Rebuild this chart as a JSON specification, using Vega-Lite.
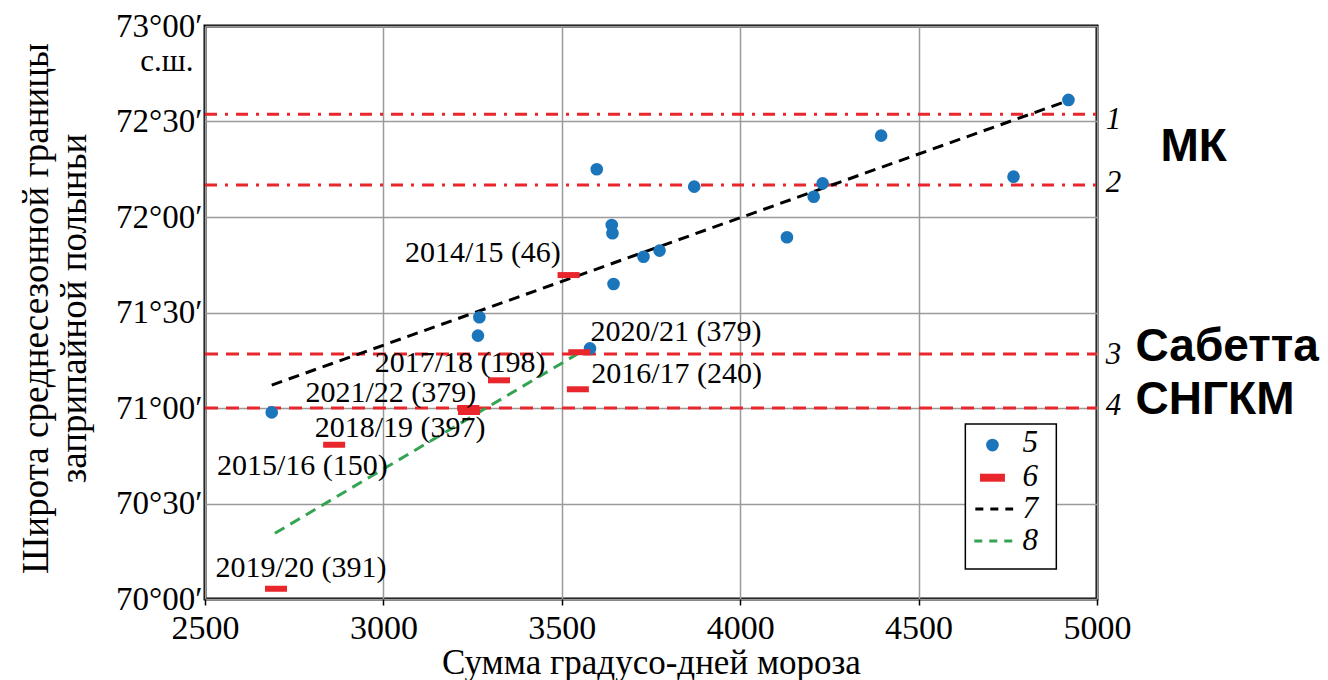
{
  "$schema": "https://vega.github.io/schema/vega-lite/v6.json",
  "width": 892,
  "height": 573,
  "autosize": {"type": "none"},
  "padding": {"left": 205, "top": 26, "right": 231, "bottom": 81},
  "background": "white",
  "config": {
    "font": "Liberation Serif",
    "view": {"stroke": "black", "strokeWidth": 3},
    "axis": {"labelColor": "black", "titleColor": "black", "titleFontWeight": "normal", "labelFont": "Liberation Serif", "titleFont": "Liberation Serif"}
  },
  "datasets": {
    "refs": [
      {"id": "1", "kind": "dashdot", "x": 2500, "x2": 5000, "y": 72.538},
      {"id": "2", "kind": "dashdot", "x": 2500, "x2": 5000, "y": 72.167},
      {"id": "3", "kind": "dashed", "x": 2500, "x2": 5000, "y": 71.283},
      {"id": "4", "kind": "dashed", "x": 2500, "x2": 5000, "y": 71.0}
    ],
    "trends": [
      {"s": "7", "x": 2687, "y": 71.12},
      {"s": "7", "x": 4920, "y": 72.61},
      {"s": "8", "x": 2696, "y": 70.344},
      {"s": "8", "x": 3550, "y": 71.29}
    ],
    "pts": [
      {"x": 2687, "y": 70.977},
      {"x": 3265, "y": 71.379},
      {"x": 3269, "y": 71.475},
      {"x": 3579, "y": 71.312},
      {"x": 3598, "y": 72.25},
      {"x": 3640, "y": 71.958},
      {"x": 3642, "y": 71.915},
      {"x": 3645, "y": 71.649},
      {"x": 3729, "y": 71.792},
      {"x": 3774, "y": 71.824},
      {"x": 3871, "y": 72.159},
      {"x": 4131, "y": 71.894},
      {"x": 4206, "y": 72.106},
      {"x": 4231, "y": 72.176},
      {"x": 4395, "y": 72.426},
      {"x": 4766, "y": 72.211},
      {"x": 4920, "y": 72.613}
    ],
    "bars": [
      {"season": "2014/15", "x": 3519, "y": 71.696},
      {"season": "2020/21", "x": 3549, "y": 71.292},
      {"season": "2016/17", "x": 3545, "y": 71.098},
      {"season": "2017/18", "x": 3324, "y": 71.145},
      {"season": "2021/22", "x": 3238, "y": 71.0},
      {"season": "2018/19", "x": 3240, "y": 70.979},
      {"season": "2015/16", "x": 2862, "y": 70.808},
      {"season": "2019/20", "x": 2699, "y": 70.054}
    ],
    "labels": [
      {"t": "2014/15 (46)", "x": 3279, "y": 71.81},
      {"t": "2020/21 (379)", "x": 3820, "y": 71.4},
      {"t": "2016/17 (240)", "x": 3822, "y": 71.178},
      {"t": "2017/18 (198)", "x": 3215, "y": 71.234},
      {"t": "2021/22 (379)", "x": 3021, "y": 71.077},
      {"t": "2018/19 (397)", "x": 3047, "y": 70.894},
      {"t": "2015/16 (150)", "x": 2773, "y": 70.698},
      {"t": "2019/20 (391)", "x": 2769, "y": 70.161}
    ],
    "nums": [
      {"t": "1", "x": 5046, "y": 72.51},
      {"t": "2", "x": 5046, "y": 72.18},
      {"t": "3", "x": 5046, "y": 71.275},
      {"t": "4", "x": 5046, "y": 71.008}
    ],
    "sites": [
      {"t": "МК", "x": 5178, "y": 72.364},
      {"t": "Сабетта", "x": 5108, "y": 71.32},
      {"t": "СНГКМ", "x": 5108, "y": 71.04}
    ],
    "unit": [
      {"t": "с.ш.", "x": 2393, "y": 72.81}
    ],
    "legbox": [
      {"x": 4631, "x2": 4886, "y": 70.916, "y2": 70.157}
    ],
    "legdot": [{"x": 4707, "y": 70.806}],
    "legbar": [{"x": 4707, "y": 70.635}],
    "leglines": [
      {"s": "7", "x": 4659, "x2": 4765, "y": 70.471},
      {"s": "8", "x": 4656, "x2": 4765, "y": 70.304}
    ],
    "legtext": [
      {"t": "5", "x": 4813, "y": 70.817},
      {"t": "6", "x": 4813, "y": 70.639},
      {"t": "7", "x": 4813, "y": 70.471},
      {"t": "8", "x": 4813, "y": 70.304}
    ]
  },
  "encoding": {
    "x": {
      "field": "x", "type": "quantitative",
      "scale": {"domain": [2500, 5000], "nice": false, "zero": false},
      "axis": {
        "values": [2500, 3000, 3500, 4000, 4500, 5000],
        "format": "d",
        "title": "Сумма градусо-дней мороза",
        "grid": true, "gridColor": "#9a9a9a", "gridWidth": 1.5,
        "domain": false,
        "ticks": true, "tickColor": "black", "tickSize": 6, "tickWidth": 1.5,
        "labelFontSize": 34, "labelPadding": 6, "labelFlush": false,
        "titleFontSize": 35, "titleBaseline": "alphabetic", "titleY": 74
      }
    },
    "y": {
      "field": "y", "type": "quantitative",
      "scale": {"domain": [70, 73], "nice": false, "zero": false},
      "axis": {
        "values": [70, 70.5, 71, 71.5, 72, 72.5, 73],
        "labelExpr": "floor(datum.value) + '°' + (datum.value % 1 == 0 ? '00' : '30') + '′'",
        "title": ["Широта среднесезонной границы", "заприпайной полыньи"],
        "grid": true, "gridColor": "#9a9a9a", "gridWidth": 1.5,
        "domain": false, "ticks": false,
        "labelFontSize": 33, "labelPadding": 3,
        "titleFontSize": 37, "titleLineHeight": 38, "titleAngle": -90,
        "titleAlign": "center", "titleBaseline": "middle",
        "titleX": -169, "titleY": 282
      }
    }
  },
  "layer": [
    {
      "data": {"name": "refs"},
      "transform": [{"filter": "datum.kind == 'dashdot'"}],
      "mark": {"type": "rule", "color": "#e8262b", "strokeWidth": 3, "strokeDash": [12, 8, 3, 8]},
      "encoding": {"x2": {"field": "x2"}}
    },
    {
      "data": {"name": "refs"},
      "transform": [{"filter": "datum.kind == 'dashed'"}],
      "mark": {"type": "rule", "color": "#e8262b", "strokeWidth": 3, "strokeDash": [13, 8]},
      "encoding": {"x2": {"field": "x2"}}
    },
    {
      "data": {"name": "trends"},
      "mark": {"type": "line", "strokeWidth": 3, "strokeDash": [11, 7]},
      "encoding": {
        "color": {"field": "s", "type": "nominal", "scale": {"domain": ["7", "8"], "range": ["black", "#33a452"]}, "legend": null}
      }
    },
    {
      "data": {"name": "pts"},
      "mark": {"type": "point", "shape": "circle", "filled": true, "size": 160, "color": "#1b75bb", "opacity": 1}
    },
    {
      "data": {"name": "bars"},
      "mark": {"type": "tick", "orient": "horizontal", "size": 22, "thickness": 6, "color": "#e8262b", "opacity": 1}
    },
    {
      "data": {"name": "labels"},
      "mark": {"type": "text", "font": "Liberation Serif", "fontSize": 30, "align": "center", "baseline": "middle", "color": "black"},
      "encoding": {"text": {"field": "t"}}
    },
    {
      "data": {"name": "nums"},
      "mark": {"type": "text", "font": "Liberation Serif", "fontStyle": "italic", "fontSize": 31, "align": "center", "baseline": "middle", "color": "black"},
      "encoding": {"text": {"field": "t"}}
    },
    {
      "data": {"name": "sites"},
      "mark": {"type": "text", "font": "Liberation Sans", "fontWeight": "bold", "fontSize": 46, "align": "left", "baseline": "middle", "color": "black"},
      "encoding": {"text": {"field": "t"}}
    },
    {
      "data": {"name": "unit"},
      "mark": {"type": "text", "font": "Liberation Serif", "fontSize": 31, "align": "center", "baseline": "middle", "color": "black"},
      "encoding": {"text": {"field": "t"}}
    },
    {
      "data": {"name": "legbox"},
      "mark": {"type": "rect", "fill": "white", "stroke": "black", "strokeWidth": 1.5},
      "encoding": {"x2": {"field": "x2"}, "y2": {"field": "y2"}}
    },
    {
      "data": {"name": "legdot"},
      "mark": {"type": "point", "shape": "circle", "filled": true, "size": 160, "color": "#1b75bb", "opacity": 1}
    },
    {
      "data": {"name": "legbar"},
      "mark": {"type": "tick", "orient": "horizontal", "size": 25, "thickness": 8, "color": "#e8262b", "opacity": 1}
    },
    {
      "data": {"name": "leglines"},
      "mark": {"type": "rule", "strokeWidth": 3, "strokeDash": [8, 7]},
      "encoding": {
        "x2": {"field": "x2"},
        "color": {"field": "s", "type": "nominal", "scale": {"domain": ["7", "8"], "range": ["black", "#33a452"]}, "legend": null}
      }
    },
    {
      "data": {"name": "legtext"},
      "mark": {"type": "text", "font": "Liberation Serif", "fontStyle": "italic", "fontSize": 31, "align": "center", "baseline": "middle", "color": "black"},
      "encoding": {"text": {"field": "t"}}
    }
  ]
}
